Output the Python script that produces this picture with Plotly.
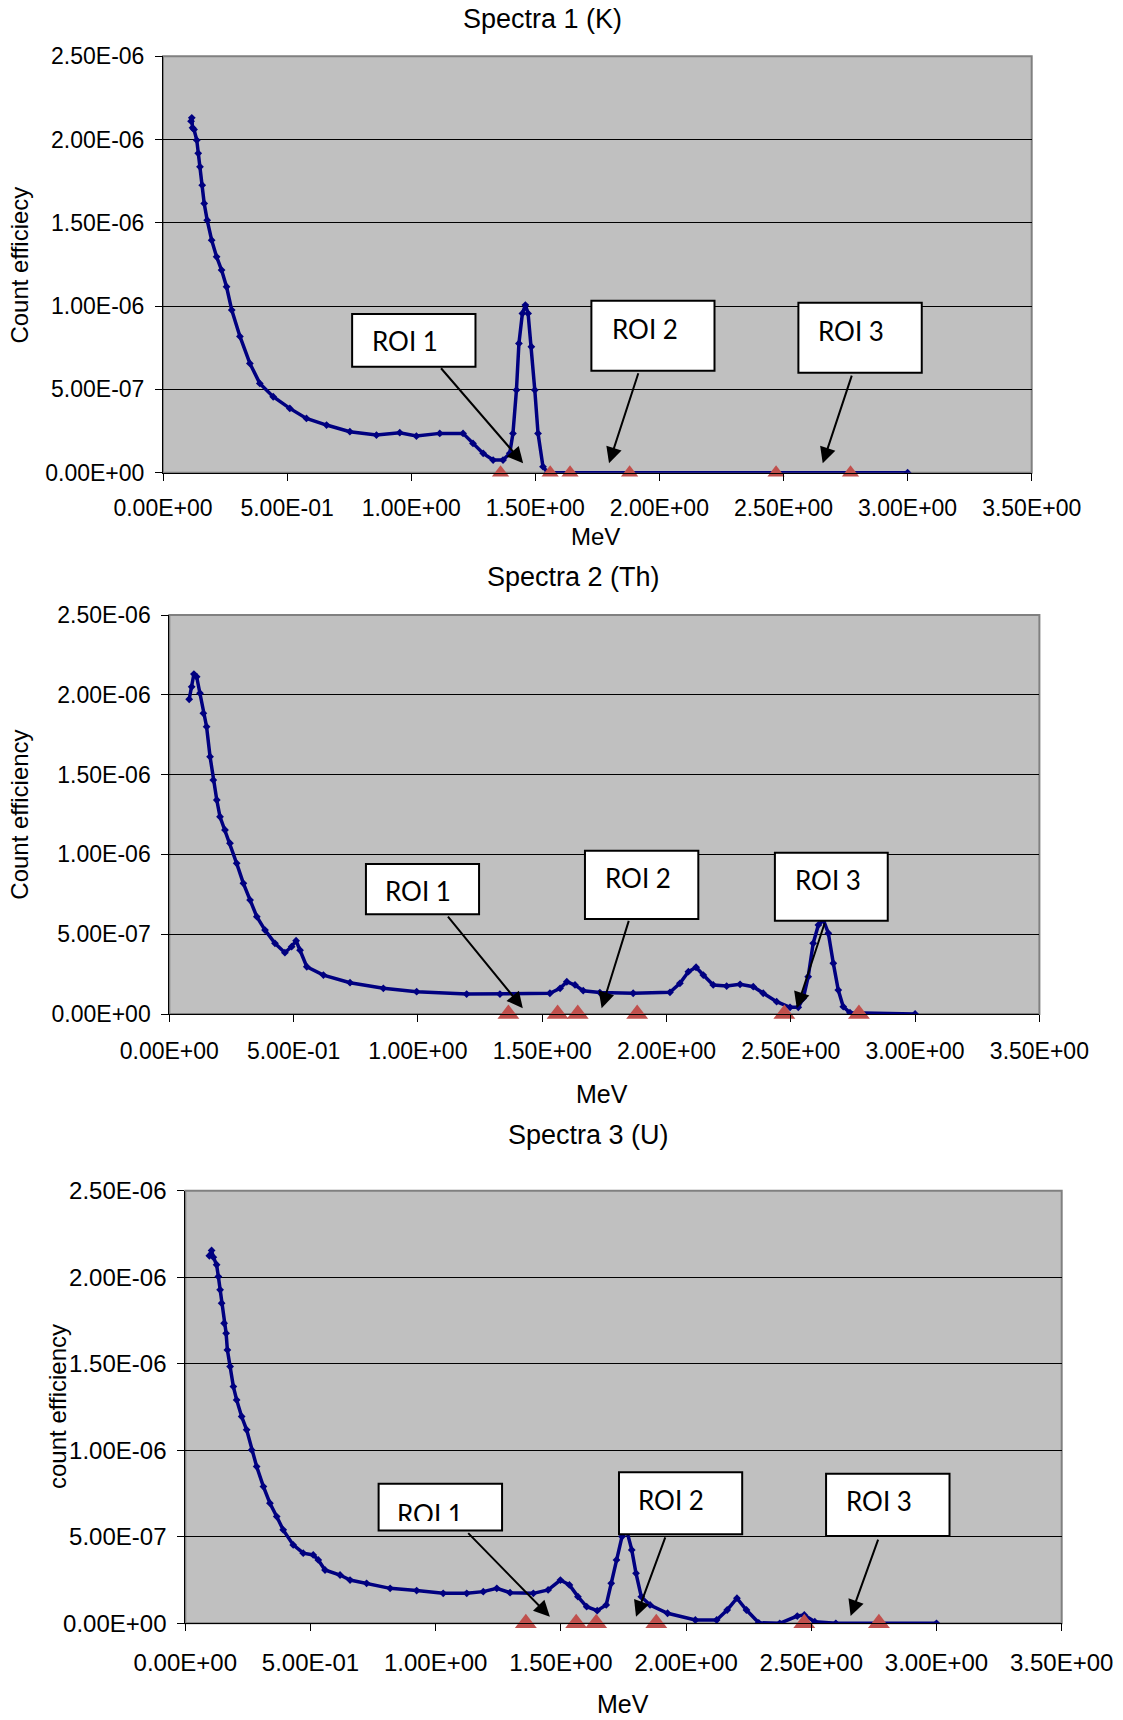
import plotly.graph_objects as go

W, H = 1123, 1720

# ---------------- data (energy in MeV, count efficiency in units of 1e-6) ----------------
k_energy = [0.113, 0.116, 0.119, 0.125, 0.136, 0.142, 0.149, 0.158, 0.166, 0.178, 0.196, 0.216,
            0.236, 0.256, 0.277, 0.31, 0.35, 0.39, 0.444, 0.511, 0.578, 0.659, 0.753, 0.86,
            0.954, 1.021, 1.115, 1.209, 1.249, 1.29, 1.33, 1.37, 1.397, 1.41, 1.424, 1.434,
            1.448, 1.46, 1.471, 1.484, 1.498, 1.511, 1.531, 1.55, 3.0]
k_eff = [2.11, 2.13, 2.07, 2.06, 1.996, 1.917, 1.836, 1.726, 1.616, 1.516, 1.396, 1.296,
         1.216, 1.116, 0.976, 0.818, 0.656, 0.536, 0.456, 0.386, 0.326, 0.286, 0.246, 0.226,
         0.24, 0.22, 0.236, 0.236, 0.176, 0.116, 0.076, 0.076, 0.116, 0.236, 0.496, 0.776,
         0.956, 1.006, 0.956, 0.756, 0.496, 0.236, 0.036, 0.0, 0.0]

th_energy = [0.080, 0.090, 0.099, 0.110, 0.1235, 0.137, 0.150, 0.164, 0.177, 0.191, 0.204, 0.224,
             0.244, 0.271, 0.298, 0.325, 0.352, 0.385, 0.425, 0.465, 0.492, 0.51, 0.526, 0.553,
             0.62, 0.727, 0.861, 0.995, 1.196, 1.33, 1.531, 1.572, 1.599, 1.632, 1.665, 1.732,
             1.866, 2.014, 2.054, 2.088, 2.119, 2.148, 2.188, 2.242, 2.296, 2.349, 2.389, 2.443,
             2.497, 2.530, 2.55, 2.57, 2.59, 2.611, 2.631, 2.651, 2.671, 2.691, 2.711, 2.738, 3.0]
th_eff = [1.972, 2.05, 2.13, 2.113, 2.01, 1.884, 1.80, 1.612, 1.466, 1.341, 1.236, 1.153,
          1.07, 0.944, 0.819, 0.714, 0.61, 0.526, 0.443, 0.384, 0.422, 0.459, 0.40, 0.296,
          0.244, 0.196, 0.161, 0.14, 0.125, 0.125, 0.13, 0.161, 0.202, 0.182, 0.146, 0.134,
          0.13, 0.136, 0.192, 0.265, 0.293, 0.244, 0.182, 0.175, 0.186, 0.171, 0.13, 0.077,
          0.042, 0.042, 0.098, 0.234, 0.443, 0.558, 0.589, 0.506, 0.318, 0.15, 0.046, 0.008, 0.0]

u_energy = [0.096, 0.105, 0.112, 0.125, 0.132, 0.139, 0.145, 0.155, 0.163, 0.168, 0.179, 0.192,
            0.205, 0.225, 0.245, 0.265, 0.285, 0.312, 0.338, 0.365, 0.391, 0.431, 0.471, 0.511,
            0.531, 0.558, 0.618, 0.658, 0.724, 0.818, 0.924, 1.030, 1.124, 1.190, 1.244, 1.297,
            1.390, 1.449, 1.498, 1.534, 1.568, 1.603, 1.645, 1.681, 1.701, 1.722, 1.744, 1.764,
            1.783, 1.8, 1.821, 1.856, 1.926, 2.037, 2.122, 2.164, 2.203, 2.241, 2.29, 2.374,
            2.444, 2.472, 2.514, 2.598, 3.0]
u_eff = [2.124, 2.155, 2.116, 2.072, 2.004, 1.927, 1.85, 1.734, 1.676, 1.58, 1.484, 1.368,
         1.291, 1.195, 1.118, 1.002, 0.906, 0.79, 0.694, 0.617, 0.54, 0.453, 0.405, 0.395,
         0.366, 0.308, 0.279, 0.25, 0.231, 0.202, 0.189, 0.173, 0.173, 0.183, 0.202, 0.177,
         0.173, 0.193, 0.25, 0.222, 0.154, 0.096, 0.073, 0.106, 0.231, 0.366, 0.501, 0.53,
         0.424, 0.289, 0.154, 0.106, 0.058, 0.019, 0.019, 0.077, 0.145, 0.077, 0.003, 0.0,
         0.042, 0.048, 0.009, 0.0, 0.0]

# ROI limits (red triangles), MeV
k_roi = [1.36, 1.56, 1.64, 1.88, 2.47, 2.77]
th_roi = [1.364, 1.562, 1.643, 1.882, 2.474, 2.774]
u_roi = [1.36, 1.561, 1.641, 1.881, 2.472, 2.77]

x_ticks = [0, 0.5, 1.0, 1.5, 2.0, 2.5, 3.0, 3.5]
x_tick_text = ["0.00E+00", "5.00E-01", "1.00E+00", "1.50E+00", "2.00E+00", "2.50E+00",
               "3.00E+00", "3.50E+00"]
y_ticks = [0, 0.5, 1.0, 1.5, 2.0, 2.5]
y_tick_text = ["0.00E+00", "5.00E-07", "1.00E-06", "1.50E-06", "2.00E-06", "2.50E-06"]

titles = ["Spectra 1 (K)", "Spectra 2 (Th)", "Spectra 3 (U)"]
y_titles = ["Count efficiecy", "Count efficiency", "count efficiency"]
roi_labels = ["ROI 1", "ROI 2", "ROI 3"]

# ---------------- layout geometry (pixels) ----------------
panels = [
    dict(x0=163.0, x1=1031.7, ytop=56.2, ybot=472.7, tri=15, xstand=8,
         title_xy=(542, 19), ytitle_xy=(18.6, 265), xtitle_xy=(595, 536), xtitle_size=24, font=23,
         boxes=[(0.762, 1.259, 0.636, 0.952), (1.726, 2.222, 0.612, 1.032), (2.560, 3.057, 0.600, 1.020)],
         texts=[(0.975, 0.79), (1.940, 0.86), (2.773, 0.85)],
         arrows=[((1.115, 0.636), (1.451, 0.056)), ((1.917, 0.606), (1.797, 0.056)),
                 ((2.777, 0.592), (2.658, 0.056))]),
    dict(x0=169.3, x1=1039.4, ytop=615.0, ybot=1014.0, tri=19, xstand=9,
         title_xy=(573, 577), ytitle_xy=(19.7, 815), xtitle_xy=(602, 1094), xtitle_size=25, font=23,
         boxes=[(0.791, 1.246, 0.625, 0.940), (1.672, 2.128, 0.595, 1.023), (2.436, 2.890, 0.585, 1.011)],
         texts=[(1.002, 0.77), (1.887, 0.85), (2.648, 0.84)],
         arrows=[((1.116, 0.620), (1.422, 0.036)), ((1.850, 0.593), (1.739, 0.036)),
                 ((2.638, 0.578), (2.524, 0.036))]),
    dict(x0=185.3, x1=1061.7, ytop=1190.7, ybot=1623.3, tri=19, xstand=11,
         title_xy=(588, 1135), ytitle_xy=(57, 1407), xtitle_xy=(623, 1704), xtitle_size=25, font=24,
         boxes=[(0.772, 1.265, 0.536, 0.806), (1.732, 2.224, 0.515, 0.873), (2.559, 3.052, 0.505, 0.864)],
         texts=[(0.977, 0.63), (1.940, 0.715), (2.769, 0.705)],
         arrows=[((1.124, 0.530), (1.456, 0.038)), ((1.919, 0.505), (1.800, 0.038)),
                 ((2.769, 0.492), (2.657, 0.042))]),
]
series = [(k_energy, k_eff, k_roi), (th_energy, th_eff, th_roi), (u_energy, u_eff, u_roi)]

NAVY = "#000080"
RED = "#C0504D"
AX_FONT = "Liberation Sans, Arial, sans-serif"
ROI_FONT = "Lato, Open Sans, sans-serif"

fig = go.Figure()
annotations = []
shapes = []
layout_axes = {}


def px(xp, yp):
    return dict(xref="paper", yref="paper", x=xp / W, y=1 - yp / H,
                xanchor="center", yanchor="middle")


for i, (p, (ex, ey, roi)) in enumerate(zip(panels, series)):
    n = "" if i == 0 else str(i + 1)
    xa, ya = "x" + n, "y" + n
    fig.add_trace(go.Scatter(x=ex, y=ey, xaxis=xa, yaxis=ya, mode="lines+markers",
                             line=dict(color=NAVY, width=3.5),
                             marker=dict(symbol="diamond", size=6, color=NAVY),
                             showlegend=False, hoverinfo="skip"))
    fig.add_trace(go.Scatter(x=roi, y=[0] * len(roi), xaxis=xa, yaxis=ya, mode="markers",
                             marker=dict(symbol="triangle-up", size=p["tri"], color=RED),
                             cliponaxis=False, showlegend=False, hoverinfo="skip"))

    layout_axes["xaxis" + n] = dict(
        domain=[p["x0"] / W, p["x1"] / W], range=[0, 3.5], anchor=ya, automargin=False,
        tickvals=x_ticks, ticktext=x_tick_text, showgrid=False, zeroline=False,
        showline=True, linecolor="black", linewidth=1, ticks="outside", ticklen=7,
        tickcolor="black", tickfont=dict(family=AX_FONT, size=p["font"], color="black"),
        ticklabelstandoff=p["xstand"], fixedrange=True)
    layout_axes["yaxis" + n] = dict(
        domain=[1 - p["ybot"] / H, 1 - p["ytop"] / H], range=[0, 2.5], anchor=xa, automargin=False,
        tickvals=y_ticks, ticktext=y_tick_text, showgrid=True, gridcolor="black", gridwidth=1,
        zeroline=False, showline=True, linecolor="black", linewidth=1, ticks="outside",
        ticklen=7, tickcolor="black", tickfont=dict(family=AX_FONT, size=p["font"], color="black"),
        ticklabelstandoff=6, fixedrange=True)

    # plot-area frame (grey top / right border)
    shapes.append(dict(type="rect", xref=xa + " domain", yref=ya + " domain", x0=0, x1=1, y0=0, y1=1,
                       line=dict(color="#808080", width=2), fillcolor="rgba(0,0,0,0)", layer="below"))

    # titles
    annotations.append(dict(text=titles[i], showarrow=False, **px(*p["title_xy"]),
                            font=dict(family=AX_FONT, size=27, color="black")))
    annotations.append(dict(text=y_titles[i], textangle=-90, showarrow=False, **px(*p["ytitle_xy"]),
                            font=dict(family=AX_FONT, size=24, color="black")))
    annotations.append(dict(text="MeV", showarrow=False, **px(*p["xtitle_xy"]),
                            font=dict(family=AX_FONT, size=p["xtitle_size"], color="black")))

    # ROI callouts
    for (bx0, bx1, by0, by1), (tx, ty), ((ax_, ay_), (tx2, ty2)), lab in zip(
            p["boxes"], p["texts"], p["arrows"], roi_labels):
        shapes.append(dict(type="rect", xref=xa, yref=ya, x0=bx0, x1=bx1, y0=by0, y1=by1,
                           fillcolor="white", line=dict(color="black", width=2), layer="above"))
        annotations.append(dict(text=lab, xref=xa, yref=ya, x=tx, y=ty, showarrow=False,
                                xanchor="center", yanchor="middle",
                                font=dict(family=ROI_FONT, size=26, color="black")))
        annotations.append(dict(text="", xref=xa, yref=ya, axref=xa, ayref=ya, x=tx2, y=ty2,
                                ax=ax_, ay=ay_, showarrow=True, arrowhead=2, arrowsize=1.6,
                                arrowwidth=2, arrowcolor="black"))
    if i == 2:
        # the first callout text of the U spectrum is cut off by its box
        annotations.append(dict(text=" ", xref=xa, yref=ya, x=(p["boxes"][0][0] + p["boxes"][0][1]) / 2,
                                y=0.568, xanchor="center", yanchor="middle", showarrow=False,
                                bgcolor="white", width=118, height=8,
                                borderpad=0, borderwidth=0, font=dict(size=4)))

fig.update_layout(width=W, height=H, margin=dict(l=0, r=0, t=0, b=0),
                  paper_bgcolor="white", plot_bgcolor="#C0C0C0",
                  annotations=annotations, shapes=shapes, **layout_axes)

fig.write_html("out.html", config={"displayModeBar": False},
               post_script="document.body.style.margin='0px';")
